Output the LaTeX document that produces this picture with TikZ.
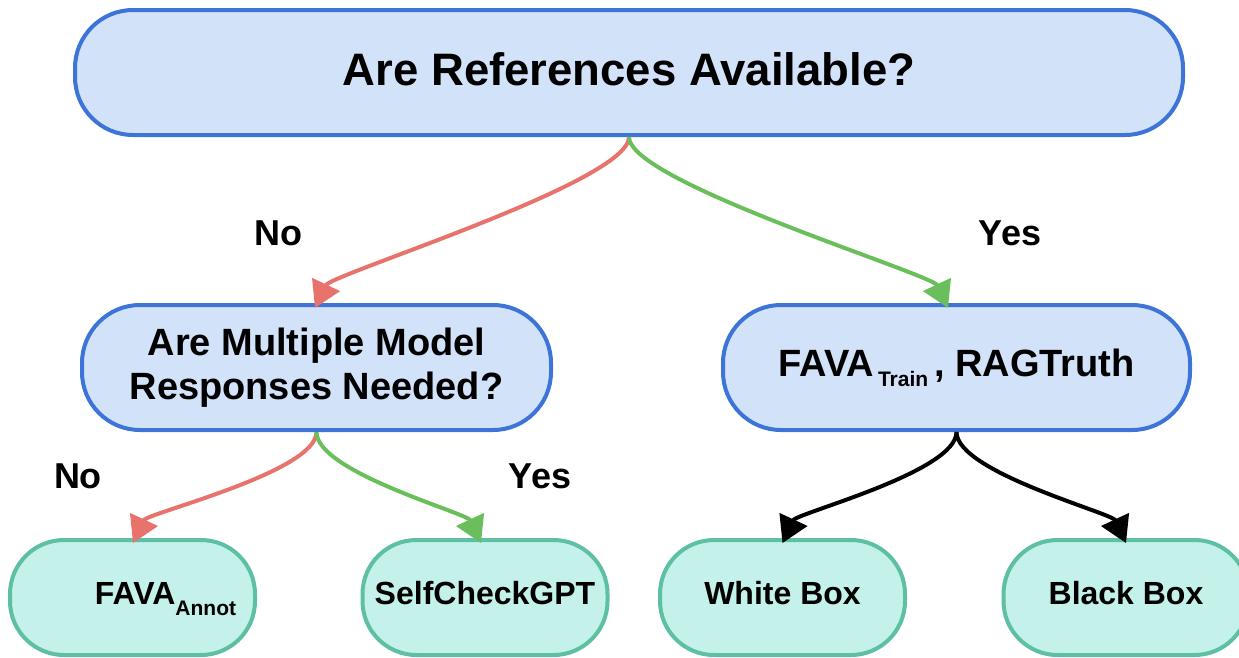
\documentclass[tikz,border=0pt]{standalone}
\usepackage{fontspec}
\setmainfont{Liberation Sans}
\usetikzlibrary{arrows.meta,calc}
\definecolor{qfill}{HTML}{D2E2F8}
\definecolor{qline}{HTML}{3C74D8}
\definecolor{afill}{HTML}{C4F1EA}
\definecolor{aline}{HTML}{5DBFA3}
\definecolor{noline}{HTML}{E8736C}
\definecolor{yesline}{HTML}{6ABF5C}
\tikzset{
  question/.style={draw=qline, fill=qfill, line width=4pt, rounded corners=58pt,
    minimum height=125pt, align=center, font=\bfseries, inner sep=0pt},
  answer/.style={draw=aline, fill=afill, line width=4pt, rounded corners=54pt,
    minimum width=245pt, minimum height=115pt, align=center, text depth=9pt,
    font=\fontsize{32}{38}\selectfont\bfseries, inner sep=0pt},
  edge/.style={line width=4pt, -{Triangle[width=30pt,length=26pt]}},
  noedge/.style={edge, draw=noline},
  yesedge/.style={edge, draw=yesline},
  plainedge/.style={edge, draw=black},
  choice/.style={font=\fontsize{36}{40}\selectfont\bfseries, inner sep=0pt}
}
\newcommand{\lowsub}[2]{\raisebox{#1}{\fontsize{21}{21}\selectfont #2}}
\begin{document}
\begin{tikzpicture}[x=1pt,y=-1pt]
\useasboundingbox (0,0) rectangle (1239,657);

% question nodes
\node[question, minimum width=1108pt, text depth=6pt,
      font=\fontsize{45.5}{50}\selectfont\bfseries]
  (refs) at (629,72.5) {Are References Available?};
\node[question, minimum width=469pt, font=\fontsize{38}{44}\selectfont\bfseries]
  (multi) at (316.5,367.5) {Are Multiple Model\\Responses Needed?};
\node[question, minimum width=467pt, font=\fontsize{38}{44}\selectfont\bfseries]
  (train) at (956.5,367.5)
  {FAVA\hspace{4pt}\lowsub{-10pt}{Train}\hspace{6pt}, RAGTruth};

% answer nodes
\node[answer] (annot) at (132.5,597.5) {\hspace*{66pt}FAVA\lowsub{-11pt}{Annot}};
\node[answer] (self) at (485,597.5) {SelfCheckGPT};
\node[answer] (white) at (782.5,597.5) {White Box};
\node[answer] (black) at (1126,597.5) {Black Box};

% arrow end points just above the target boxes
\coordinate (refsNo) at ($(multi.north)+(-1.5,5)$);
\coordinate (refsYes) at ($(train.north)+(-8.5,5)$);
\coordinate (multiNo) at ($(annot.north)+(0.5,5)$);
\coordinate (multiYes) at ($(self.north)+(-4,5)$);
\coordinate (trainW) at ($(white.north)+(0,5)$);
\coordinate (trainB) at ($(black.north)+(0,5)$);

% connectors
\draw[noedge] (refs.south) .. controls +(0,45) and +(16,-34) .. (refsNo);
\draw[yesedge] (refs.south) .. controls +(0,45) and +(-16,-34) .. (refsYes);
\draw[noedge] (multi.south) .. controls +(0,40) and +(14,-30) .. (multiNo);
\draw[yesedge] (multi.south) .. controls +(0,40) and +(-14,-30) .. (multiYes);
\draw[plainedge] (train.south) .. controls +(0,40) and +(14,-30) .. (trainW);
\draw[plainedge] (train.south) .. controls +(0,40) and +(-14,-30) .. (trainB);

% branch labels
\node[choice] (lNo1) at (278,233) {No};
\node[choice] (lYes1) at (1010,233) {Yes};
\node[choice] (lNo2) at (78,476) {No};
\node[choice] (lYes2) at (540,476) {Yes};
\end{tikzpicture}
\end{document}
